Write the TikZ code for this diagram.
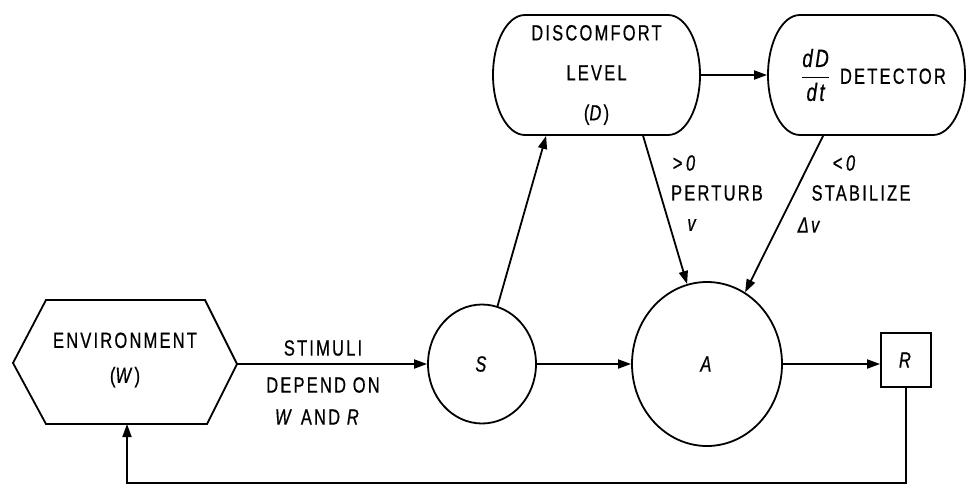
\documentclass[tikz,border=0pt]{standalone}
\usepackage{fontspec}
\setmainfont{Liberation Sans}[FakeStretch=0.75,LetterSpace=10,FakeBold=0.6]
\usetikzlibrary{arrows.meta,shapes.geometric,calc}
% stadium outline with elliptical ends: left, right, top, bottom, end x-radius
\newcommand\mystadium[5]{%
  \pgfmathsetmacro\xa{#1+#5}\pgfmathsetmacro\xb{#2-#5}%
  \pgfmathsetmacro\ym{(#3+#4)/2}\pgfmathsetmacro\ry{(#4-#3)/2}%
  \pgfmathsetmacro\ka{0.5523*#5}\pgfmathsetmacro\kb{0.5523*\ry}%
  \draw (\xa,#3) -- (\xb,#3)
    .. controls (\xb+\ka,#3) and (#2,\ym-\kb) .. (#2,\ym)
    .. controls (#2,\ym+\kb) and (\xb+\ka,#4) .. (\xb,#4)
    -- (\xa,#4)
    .. controls (\xa-\ka,#4) and (#1,\ym+\kb) .. (#1,\ym)
    .. controls (#1,\ym-\kb) and (\xa-\ka,#3) .. cycle;}
\begin{document}
\begin{tikzpicture}[x=1pt,y=-1pt, line width=1.8pt,
  lbl/.style={font=\fontsize{22}{26}\selectfont, inner sep=0pt},
  arr/.style={-{Triangle[length=13pt,width=9pt]}},
  boxnode/.style={minimum height=120pt, inner sep=0pt, align=center},
  ell/.style={draw, ellipse, inner sep=0pt, font=\fontsize{22}{26}\selectfont}]
\useasboundingbox (0,0) rectangle (966,485);

% environment hexagon
\coordinate (envW) at (13,363);
\coordinate (envE) at (237,364);
\coordinate (envS) at (127,424);
\draw (envW) -- (46,300) -- (205,300) -- (envE) -- (207,424) -- (46,424) -- cycle;
\node[lbl, align=center, font=\fontsize{22}{35}\selectfont] (env) at (125,360) {ENVIRONMENT\\(\textit{W})};

% circles and box
\node[ell, minimum width=108pt, minimum height=119pt] (S) at (482,364) {\textit{S}};
\node[ell, minimum width=150pt, minimum height=164pt] (A) at (707,364) {\textit{A}};
\node[draw, minimum width=50pt, minimum height=54pt, inner sep=0pt, font=\fontsize{22}{26}\selectfont] (R) at (906,360) {\textit{R}};

% rounded boxes
\mystadium{493}{700}{15}{135}{32}
\mystadium{768}{965}{15}{135}{32}
\node[boxnode, minimum width=207pt, font=\fontsize{22}{40}\selectfont] (disc) at (596.5,75) {DISCOMFORT\\LEVEL\\(\textit{D})};
\node[boxnode, minimum width=197pt, font=\fontsize{22}{26}\selectfont] (det) at (866.5,75) {\hspace*{14pt}{\fontsize{25}{30}\selectfont\ensuremath{\displaystyle\frac{\textit{dD}}{\textit{dt}}}}\hspace{10pt}DETECTOR};

% connectors
\draw[arr] (envE) -- (S.west);
\draw[arr] (S) -- (A);
\draw[arr] (A.east) -- (A.east -| R.west);
\draw[arr] (S.75) -- ($(disc.south west)+(54,0)$);
\draw[arr] (disc.east) -- (det.west);
\draw[arr] ($(disc.south west)+(151,0)$) -- (A.104);
\draw[arr] ($(det.south west)+(56,0)$) -- (A.62);
\coordinate (fb) at (127,483);
\draw[arr] (R.south) |- (fb) -- (envS);

% labels
\node[lbl] (l1) at (323,348) {STIMULI};
\node[lbl] (l2) at (323,385) {DEPEND ON};
\node[lbl] (l3) at (318,417) {\textit{W} AND \textit{R}};
\node[lbl] (g1) at (685,163) {\textit{>\,0}};
\node[lbl] (p1) at (717,193) {PERTURB};
\node[lbl] (v1) at (693,225) {\textit{v}};
\node[lbl] (g2) at (845,163) {\textit{<\,0}};
\node[lbl] (p2) at (861,193) {STABILIZE};
\node[lbl] (v2) at (810,225) {\textit{Δv}};
\end{tikzpicture}
\end{document}
